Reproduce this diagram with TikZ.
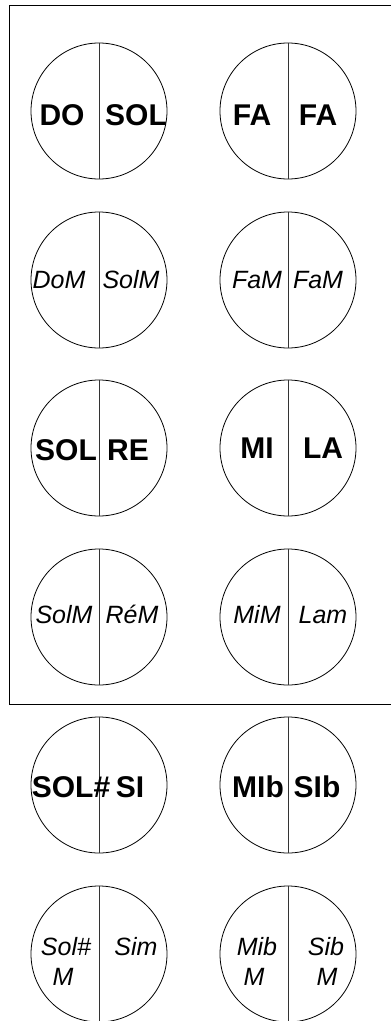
\documentclass[tikz,border=0pt]{standalone}
\usepackage{fontspec}
\setmainfont{Liberation Sans}
\begin{document}
\begin{tikzpicture}[x=1pt,y=-1pt,
  disc/.style={draw=black,line width=0.8pt,circle,minimum size=136pt,inner sep=0pt},
  divider/.style={draw=black!80,line width=0.8pt},
  frame/.style={draw=black,line width=0.9pt},
  bl/.style={font=\fontsize{30}{36}\selectfont\bfseries,inner sep=0pt,anchor=base},
  it/.style={font=\fontsize{25}{30}\selectfont\itshape,inner sep=0pt,anchor=base}]
\useasboundingbox (0,0) rectangle (391,1021);
\begin{scope}
\clip (0,0) rectangle (391,1021);
\draw[frame] (400,5) -- (9,5) -- (9,704) -- (400,704);
\end{scope}
% row 1
\node[disc] (c1a) at (99,111) {};
\node[disc] (c1b) at (288,111) {};
% row 2
\node[disc] (c2a) at (99,280) {};
\node[disc] (c2b) at (288,280) {};
% row 3
\node[disc] (c3a) at (99,448) {};
\node[disc] (c3b) at (288,448) {};
% row 4
\node[disc] (c4a) at (99,617) {};
\node[disc] (c4b) at (288,617) {};
% row 5
\node[disc] (c5a) at (99,785) {};
\node[disc] (c5b) at (288,785) {};
% row 6
\node[disc] (c6a) at (99,954) {};
\node[disc] (c6b) at (288,954) {};
\foreach \n in {c1a,c1b,c2a,c2b,c3a,c3b,c4a,c4b,c5a,c5b,c6a,c6b}
  \draw[divider] (\n.north) -- (\n.south);
% labels row 1
\node[bl] (t1) at (62,125) {DO};
\node[bl] (t2) at (136,125) {SOL};
\node[bl] (t3) at (252,125) {FA};
\node[bl] (t4) at (318,125) {FA};
% row 2
\node[it] (t5) at (59,288) {DoM};
\node[it] (t6) at (131,288) {SolM};
\node[it] (t7) at (257,288) {FaM};
\node[it] (t8) at (318,288) {FaM};
% row 3
\node[bl] (t9) at (66,460) {SOL};
\node[bl] (t10) at (128,460) {RE};
\node[bl] (t11) at (257,458) {MI};
\node[bl] (t12) at (323,458) {LA};
% row 4
\node[it] (t13) at (64,623) {SolM};
\node[it] (t14) at (132,623) {RéM};
\node[it] (t15) at (257,623) {MiM};
\node[it] (t16) at (323,623) {Lam};
% row 5
\node[bl] (t17) at (71,797) {SOL\#};
\node[bl] (t18) at (130,797) {SI};
\node[bl] (t19) at (258,797) {MIb};
\node[bl] (t20) at (317,797) {SIb};
% row 6
\node[it] (t21) at (66,955) {Sol\#};
\node[it] (t22) at (63,985) {M};
\node[it] (t23) at (136,955) {Sim};
\node[it] (t24) at (257,955) {Mib};
\node[it] (t25) at (254,985) {M};
\node[it] (t26) at (326,955) {Sib};
\node[it] (t27) at (327,985) {M};
\end{tikzpicture}
\end{document}
